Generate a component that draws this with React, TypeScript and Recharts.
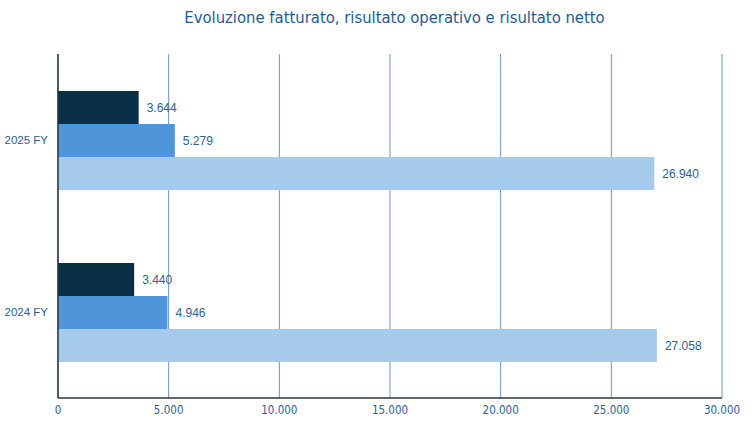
import { Bar, BarChart, CartesianGrid, LabelList, XAxis, YAxis } from 'recharts';

const categories = ['2025 FY', '2024 FY'];
const risultatoNetto = [3644, 3440];
const risultatoOperativo = [5279, 4946];
const fatturato = [26940, 27058];
const xTicks = [0, 5000, 10000, 15000, 20000, 25000, 30000];

const data = categories.map((name, i) => ({
  name,
  netto: risultatoNetto[i],
  operativo: risultatoOperativo[i],
  fatturato: fatturato[i]
}));

const fmt = (v: number) => String(v).replace(/\B(?=(\d{3})+(?!\d))/g, '.');

const textBlue = '#2E5E94';
const labelStyle = { fontSize: 12, fill: textBlue, fontFamily: 'Liberation Sans, Arial, sans-serif' };
const catStyle = { fontSize: 11.5, fill: textBlue, fontFamily: 'Liberation Sans, Arial, sans-serif' };

export default function App() {
  return (
    <div style={{ position: 'absolute', left: 0, top: 0, width: 753, height: 426, background: '#fff' }}>
      <div
        style={{
          position: 'absolute',
          top: 8,
          left: 18,
          width: 753,
          textAlign: 'center',
          fontFamily: '"Liberation Sans Narrow", "DejaVu Sans Condensed", sans-serif',
          fontSize: 16.5,
          color: '#215C98'
        }}
      >
        Evoluzione fatturato, risultato operativo e risultato netto
      </div>
      <BarChart
        width={753}
        height={426}
        data={data}
        layout="vertical"
        margin={{ top: 54, right: 31, left: 0, bottom: 0 }}
        barGap={0}
        barSize={33}
      >
        <CartesianGrid horizontal={false} stroke="#6A95C6" strokeWidth={1} />
        <XAxis
          type="number"
          domain={[0, 30000]}
          ticks={xTicks}
          tickFormatter={fmt}
          height={28}
          axisLine={{ stroke: '#2A3440', strokeWidth: 1.5 }}
          tickLine={false}
          tick={{ fontSize: 11.5, fill: textBlue, fontFamily: '"Liberation Sans Narrow", "DejaVu Sans Condensed", sans-serif' }}
        />
        <YAxis
          type="category"
          dataKey="name"
          width={58}
          axisLine={{ stroke: '#2A3440', strokeWidth: 1.5 }}
          tickLine={false}
          tickMargin={4}
          tick={catStyle}
        />
        <Bar dataKey="netto" fill="#0B2F44" isAnimationActive={false}>
          <LabelList dataKey="netto" position="right" offset={8} formatter={(v: any) => fmt(v)} style={labelStyle} />
        </Bar>
        <Bar dataKey="operativo" fill="#4E95D9" isAnimationActive={false}>
          <LabelList dataKey="operativo" position="right" offset={8} formatter={(v: any) => fmt(v)} style={labelStyle} />
        </Bar>
        <Bar dataKey="fatturato" fill="#A6CAEC" isAnimationActive={false}>
          <LabelList dataKey="fatturato" position="right" offset={8} formatter={(v: any) => fmt(v)} style={labelStyle} />
        </Bar>
      </BarChart>
    </div>
  );
}
